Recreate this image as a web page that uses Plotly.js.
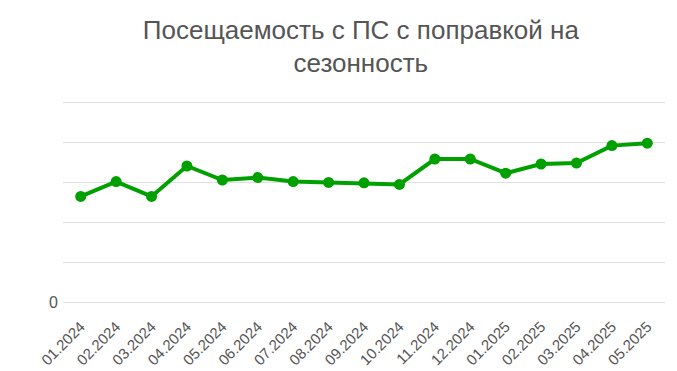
<!DOCTYPE html>
<html>
<head>
<meta charset="utf-8">
<script src="https://cdn.plot.ly/plotly-3.0.1.min.js"></script>
<style>html,body{margin:0;padding:0;background:#fff;}#chart{width:677px;height:371px;}</style>
</head>
<body>
<div id="chart"></div>
<script>
const categories = ['01.2024','02.2024','03.2024','04.2024','05.2024','06.2024','07.2024','08.2024','09.2024','10.2024','11.2024','12.2024','01.2025','02.2025','03.2025','04.2025','05.2025'];
const values = [2.64, 3.01, 2.64, 3.40, 3.05, 3.11, 3.01, 2.99, 2.98, 2.94, 3.575, 3.575, 3.22, 3.45, 3.475, 3.91, 3.97];
const yTickVals = [0, 1, 2, 3, 4, 5];
const yTickText = ['0', '', '', '', '', ''];
const titleText = 'Посещаемость с ПС с поправкой на<br>сезонность';

const trace = {
  x: categories,
  y: values,
  type: 'scatter',
  mode: 'lines+markers',
  line: {color: '#00a000', width: 4},
  marker: {color: '#00a000', size: 11},
  hoverinfo: 'x+y'
};

const layout = {
  width: 677, height: 371,
  margin: {l: 63, r: 12, t: 98, b: 65},
  paper_bgcolor: '#fff', plot_bgcolor: '#fff',
  showlegend: false,
  font: {family: '"Liberation Sans", Arial, sans-serif', color: '#555'},
  title: {text: titleText, font: {size: 26, color: '#555', family: '"Liberation Sans", Arial, sans-serif'}, x: 0.533, xanchor: 'center', y: 0.896, yanchor: 'top'},
  xaxis: {
    type: 'category',
    range: [-0.5, 16.5],
    tickangle: -45,
    showgrid: false,
    zeroline: false,
    showline: false,
    ticks: '',
    ticklabelstandoff: 8,
    tickfont: {size: 15, color: '#555'},
    fixedrange: true
  },
  yaxis: {
    range: [-0.1, 5.1],
    tickvals: yTickVals,
    ticktext: yTickText,
    showgrid: true,
    gridcolor: '#e0e0e0',
    gridwidth: 1,
    zeroline: false,
    showline: false,
    ticks: '',
    ticklabelstandoff: 4,
    tickfont: {size: 16, color: '#555'},
    fixedrange: true
  }
};

Plotly.newPlot('chart', [trace], layout, {displayModeBar: false, staticPlot: true});
</script>
</body>
</html>
